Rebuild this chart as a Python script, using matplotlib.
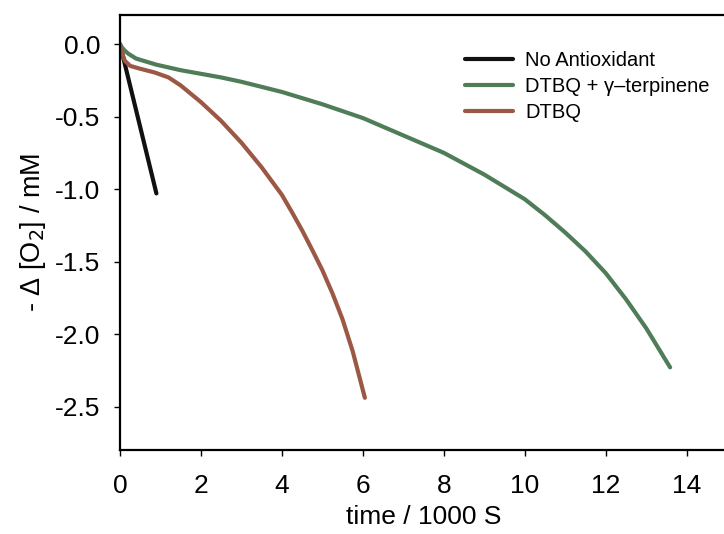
import matplotlib
matplotlib.use('Agg')
import matplotlib.pyplot as plt

plt.rcParams['font.family'] = ['Liberation Sans', 'DejaVu Sans']

# time (1000 s) and -Δ[O2] (mM)
t_none = [0.0, 0.90]
o2_none = [0.0, -1.03]

t_terp = [0.0, 0.03, 0.07, 0.12, 0.2, 0.4, 0.9, 1.5, 2.0, 2.5, 3.0, 4.0,
          5.0, 6.0, 7.0, 8.0, 9.0, 10.0, 10.5, 11.0, 11.5, 12.0, 12.5, 13.0,
          13.59]
o2_terp = [0.0, -0.015, -0.03, -0.045, -0.065, -0.10, -0.142, -0.18, -0.205,
           -0.23, -0.26, -0.33, -0.415, -0.51, -0.63, -0.75, -0.90, -1.07,
           -1.18, -1.30, -1.43, -1.58, -1.76, -1.96, -2.23]

t_dtbq = [0.0, 0.05, 0.12, 0.25, 0.5, 0.86, 1.2, 1.5, 2.0, 2.5, 3.0, 3.5,
          4.0, 4.25, 4.5, 4.75, 5.0, 5.25, 5.5, 5.75, 6.05]
o2_dtbq = [0.0, -0.06, -0.115, -0.15, -0.17, -0.196, -0.23, -0.285, -0.40,
           -0.53, -0.68, -0.85, -1.04, -1.16, -1.285, -1.42, -1.56, -1.72,
           -1.90, -2.12, -2.44]

labels = ['No Antioxidant', 'DTBQ + \u03b3\u2013terpinene', 'DTBQ']
colors = ['#111111', '#4e7d58', '#9b5844']

fig = plt.figure(figsize=(7.24, 5.34), dpi=100)
ax = fig.add_axes([0.1657, 0.1573, 0.8387, 0.8144])

ax.plot(t_none, o2_none, color=colors[0], lw=3.0, label=labels[0],
        solid_capstyle='round')
ax.plot(t_terp, o2_terp, color=colors[1], lw=3.0, label=labels[1],
        solid_capstyle='round', solid_joinstyle='round')
ax.plot(t_dtbq, o2_dtbq, color=colors[2], lw=3.0, label=labels[2],
        solid_capstyle='round', solid_joinstyle='round')

ax.set_xlim(0, 15)
ax.set_ylim(-2.8, 0.2)
ax.set_xticks(range(0, 15, 2))
ax.set_yticks([0.0, -0.5, -1.0, -1.5, -2.0, -2.5])
ax.set_yticklabels(['0.0', '-0.5', '-1.0', '-1.5', '-2.0', '-2.5'])

for s in ['left', 'bottom', 'top']:
    ax.spines[s].set_linewidth(1.6)
ax.spines['right'].set_visible(False)
ax.tick_params(direction='out', length=4, width=1, labelsize=19)
ax.tick_params(axis='x', pad=13)
ax.tick_params(axis='y', pad=10)

ax.set_xlabel('time / 1000 S', fontsize=19, labelpad=5)
ax.set_ylabel('- \u0394 [O$_2$] / mM', fontsize=19.5, labelpad=5)

ax.legend(loc='upper left', bbox_to_anchor=(0.545, 0.95), frameon=False,
          fontsize=14.5, handlelength=2.4, handletextpad=0.6,
          labelspacing=0.35, borderpad=0.2)

fig.savefig('out.png', dpi=100)
